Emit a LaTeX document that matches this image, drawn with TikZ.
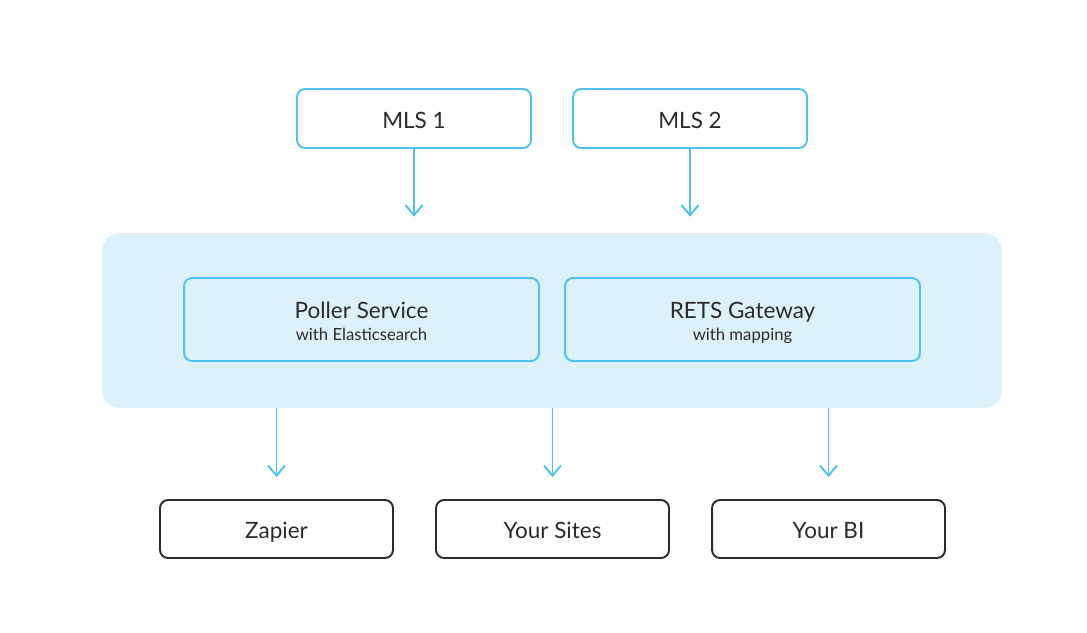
\documentclass[tikz,border=0pt]{standalone}
\usepackage{fontspec}
\setmainfont{Lato}
\usetikzlibrary{arrows.meta, positioning}
\definecolor{linkblue}{RGB}{79, 195, 240}
\definecolor{panelblue}{RGB}{220, 241, 250}
\definecolor{inkgray}{RGB}{43, 43, 43}

\begin{document}
\begin{tikzpicture}[
  x=0.02cm, y=-0.02cm,
  source/.style={rectangle, rounded corners=0.16cm, draw=linkblue, line width=1.1pt,
                 fill=white, minimum width=4.68cm, minimum height=1.18cm,
                 text height=0.38cm, text depth=0cm,
                 font=\fontsize{12.8}{14}\selectfont, text=inkgray},
  service/.style={rectangle, rounded corners=0.16cm, draw=linkblue, line width=1.1pt,
                  minimum width=7.1cm, minimum height=1.66cm, align=center,
                  text height=26pt, text depth=1.6pt,
                  font=\fontsize{12.8}{15}\selectfont, text=inkgray},
  target/.style={rectangle, rounded corners=0.16cm, draw=inkgray, line width=1.1pt,
                 fill=white, minimum width=4.66cm, minimum height=1.16cm,
                 text height=0.38cm, text depth=0cm,
                 font=\fontsize{12.8}{14}\selectfont, text=inkgray},
  panel/.style={rectangle, rounded corners=0.36cm, fill=panelblue,
                minimum width=18cm, minimum height=3.5cm},
  arrow/.style={-{Straight Barb[length=0.2cm, width=0.34cm, line width=1.1pt]},
                line width=1.1pt, color=linkblue}
]
\useasboundingbox (0,0) rectangle (1087,632);

% Sources
\node[source] (mls1) at (414,118.5) {MLS 1};
\node[source] (mls2) at (690,118.5) {MLS 2};

% Platform
\node[panel] (platform) at (552,320.5) {};
\node[service] (poller) at (361.5,319.5) {Poller Service\\[-2pt]{\fontsize{9.5}{11}\selectfont with Elasticsearch}};
\node[service] (rets) at (742.5,319.5) {RETS Gateway\\[-2pt]{\fontsize{9.5}{11}\selectfont with mapping}};

% Targets
\node[target] (zapier) at (276.5,529) {Zapier};
\node[target] (sites) at (552.5,529) {Your Sites};
\node[target] (bi) at (828.5,529) {Your BI};

% Arrows
\draw[arrow, shorten >=0.32cm] (mls1) -- (mls1 |- platform.north);
\draw[arrow, shorten >=0.32cm] (mls2) -- (mls2 |- platform.north);
\draw[arrow, shorten >=0.44cm] (zapier |- platform.south) -- (zapier);
\draw[arrow, shorten >=0.44cm] (sites |- platform.south) -- (sites);
\draw[arrow, shorten >=0.44cm] (bi |- platform.south) -- (bi);

\end{tikzpicture}
\end{document}
